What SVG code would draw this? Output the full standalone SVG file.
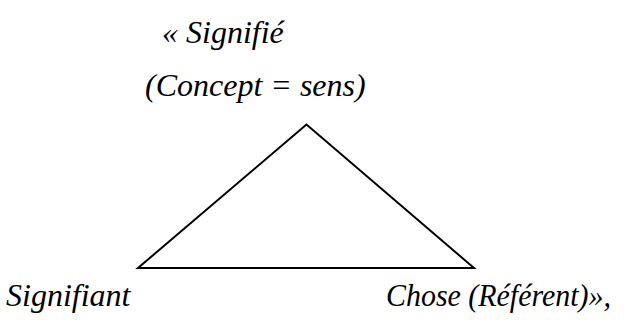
<svg xmlns="http://www.w3.org/2000/svg" width="624" height="320" viewBox="0 0 624 320">
<rect width="624" height="320" fill="#fff"/>
<g id="connectors">
<path d="M306.5,124.5 L138,268 L474,268 Z" fill="none" stroke="#000" stroke-width="2"/>
</g>
<g id="signifie">
<text x="162" y="43" font-family="Times New Roman" font-style="italic" font-size="32">« Signifié</text>
<text x="145" y="96" font-family="Times New Roman" font-style="italic" font-size="32">(Concept = sens)</text>
</g>
<g id="signifiant">
<text x="6" y="306" font-family="Times New Roman" font-style="italic" font-size="32">Signifiant</text>
</g>
<g id="chose">
<text x="386" y="306" font-family="Times New Roman" font-style="italic" font-size="32" textLength="225" lengthAdjust="spacingAndGlyphs">Chose (Référent)»,</text>
</g>
</svg>
